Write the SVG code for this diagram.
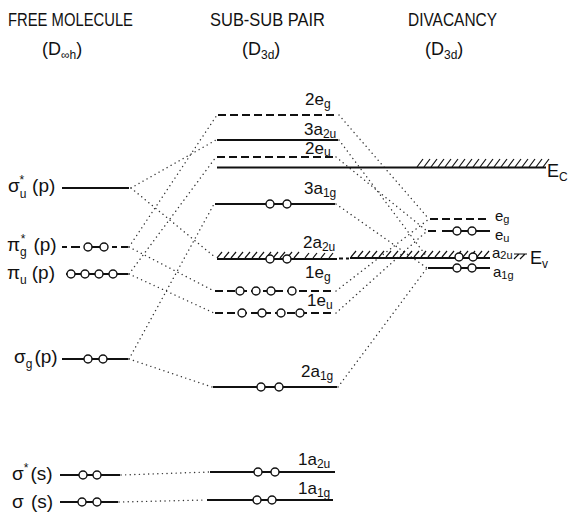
<svg xmlns="http://www.w3.org/2000/svg" width="569" height="516" viewBox="0 0 569 516">
<style>
.t{font-family:"Liberation Sans",Arial,sans-serif;fill:#111;font-size:17px}
.h{font-size:18px}
.s{font-size:12px}
.g{font-size:19px}
.r{font-size:15px}
.rs{font-size:11px}
.lv{stroke:#111;stroke-width:1.8;fill:none}
.ds{stroke-dasharray:8 4}
.e{fill:#fff;stroke:#111;stroke-width:1.4}
.dot{stroke:#333;stroke-width:1.4;stroke-dasharray:0.1 4.5;stroke-linecap:round;fill:none}
.ht{stroke:#111;stroke-width:1.2;fill:none}
</style>
<rect width="569" height="516" fill="#fff"/>
<g id="headers">
<text class="t h" x="8" y="26" textLength="125" lengthAdjust="spacingAndGlyphs">FREE MOLECULE</text>
<text class="t h" x="42" y="55">(D<tspan class="s" dy="4">∞</tspan><tspan class="s">h</tspan><tspan class="h" dy="-4">)</tspan></text>
<text class="t h" x="210" y="26" textLength="115" lengthAdjust="spacingAndGlyphs">SUB-SUB PAIR</text>
<text class="t h" x="242" y="55">(D<tspan class="s" dy="4">3d</tspan><tspan class="h" dy="-4">)</tspan></text>
<text class="t h" x="408" y="26" textLength="89" lengthAdjust="spacingAndGlyphs">DIVACANCY</text>
<text class="t h" x="425" y="55">(D<tspan class="s" dy="4">3d</tspan><tspan class="h" dy="-4">)</tspan></text>
</g>
<g id="connectors">
<path class="dot" d="M131,188 L216,140"/>
<path class="dot" d="M131,188 L216,258"/>
<path class="dot" d="M129,247 L217,115"/>
<path class="dot" d="M129,247 L214,291"/>
<path class="dot" d="M129,274 L216,157"/>
<path class="dot" d="M129,274 L214,313"/>
<path class="dot" d="M129,359 L214,204"/>
<path class="dot" d="M129,359 L212,387"/>
<path class="dot" d="M121,475 L209,472"/>
<path class="dot" d="M119,502 L206,500"/>
<path class="dot" d="M339,115 L429,219"/>
<path class="dot" d="M339,140 L427,257"/>
<path class="dot" d="M336,157 L427,231"/>
<path class="dot" d="M336,204 L427,268"/>
<path class="dot" d="M336,291 L429,219"/>
<path class="dot" d="M336,313 L427,231"/>
<path class="dot" d="M338,387 L427,268"/>
</g>
<g id="sigma_u_star_p">
<text class="t g" x="8" y="192">σ<tspan class="s" dy="6">u</tspan><tspan class="s" dx="-7" dy="-14">*</tspan><tspan dx="8" dy="8">(p)</tspan></text>
<line class="lv" x1="62" y1="188" x2="129" y2="188"/>
</g>
<g id="pi_g_star_p">
<text class="t g" x="7" y="251">π<tspan class="s" dy="5">g</tspan><tspan class="s" dx="-6" dy="-13">*</tspan><tspan dx="8" dy="8">(p)</tspan></text>
<path class="lv" d="M62,247 h5 M71,247 h9 M84,247 h24 M112,247 h5 M121,247 h7"/>
<circle class="e" cx="88" cy="247" r="4"/><circle class="e" cx="104" cy="247" r="4"/>
</g>
<g id="pi_u_p">
<text class="t g" x="7" y="279">π<tspan class="s" dy="5">u</tspan><tspan dx="5" dy="-5">(p)</tspan></text>
<line class="lv" x1="66" y1="274" x2="128" y2="274"/>
<circle class="e" cx="71" cy="274" r="4"/><circle class="e" cx="85" cy="274" r="4"/><circle class="e" cx="99" cy="274" r="4"/><circle class="e" cx="113" cy="274" r="4"/>
</g>
<g id="sigma_g_p">
<text class="t g" x="14" y="363">σ<tspan class="s" dy="5">g</tspan><tspan dx="2" dy="-5">(p)</tspan></text>
<line class="lv" x1="62" y1="359" x2="128" y2="359"/>
<circle class="e" cx="88" cy="359" r="4"/><circle class="e" cx="103" cy="359" r="4"/>
</g>
<g id="sigma_star_s">
<text class="t g" x="12" y="480">σ<tspan class="s" dy="-8">*</tspan><tspan dx="2" dy="8">(s)</tspan></text>
<line class="lv" x1="60" y1="475" x2="120" y2="475"/>
<circle class="e" cx="83" cy="475" r="4"/><circle class="e" cx="97" cy="475" r="4"/>
</g>
<g id="sigma_s">
<text class="t g" x="12" y="508">σ <tspan dx="2">(s)</tspan></text>
<line class="lv" x1="60" y1="502" x2="118" y2="502"/>
<circle class="e" cx="82" cy="502" r="4"/><circle class="e" cx="97" cy="502" r="4"/>
</g>
<g id="l2eg">
<text class="t" x="305" y="105">2e<tspan class="s" dy="3">g</tspan></text>
<line class="lv ds" x1="218" y1="115" x2="338" y2="115"/>
</g>
<g id="l3a2u">
<text class="t" x="304" y="135">3a<tspan class="s" dy="3">2u</tspan></text>
<line class="lv" x1="217" y1="140" x2="338" y2="140"/>
</g>
<g id="l2eu">
<text class="t" x="305" y="154">2e<tspan class="s" dy="2">u</tspan></text>
<line class="lv ds" x1="217" y1="157" x2="335" y2="157"/>
</g>
<g id="Ec">
<line class="lv" x1="217" y1="167.5" x2="546" y2="167.5"/>
<path class="ht" d="M417,167 l6,-8 m1,8 l6,-8 m1,8 l6,-8 m1,8 l6,-8 m1,8 l6,-8 m1,8 l6,-8 m1,8 l6,-8 m1,8 l6,-8 m1,8 l6,-8 m1,8 l6,-8 m1,8 l6,-8 m1,8 l6,-8 m1,8 l6,-8 m1,8 l6,-8 m1,8 l6,-8 m1,8 l6,-8 m1,8 l6,-8 m1,8 l6,-8 m1,8 l6,-8"/>
<text class="t h" x="547" y="177">E<tspan class="s" dy="4" font-size="11">C</tspan></text>
</g>
<g id="l3a1g">
<text class="t" x="304" y="194">3a<tspan class="s" dy="3">1g</tspan></text>
<line class="lv" x1="215" y1="204" x2="335" y2="204"/>
<circle class="e" cx="270" cy="204" r="4"/><circle class="e" cx="287" cy="204" r="4"/>
</g>
<g id="Ev">
<text class="t" x="303" y="248">2a<tspan class="s" dy="3">2u</tspan></text>
<line class="lv" x1="217" y1="259" x2="337" y2="259"/>
<path class="ht" d="M217,258 l5,-6 m2,6 l5,-6 m2,6 l5,-6 m2,6 l5,-6 m2,6 l5,-6 m2,6 l5,-6 m2,6 l5,-6 m2,6 l5,-6 m2,6 l5,-6 m2,6 l5,-6 m2,6 l5,-6 m2,6 l5,-6"/>
<path class="ht" d="M305,258 l4,-5 m4,5 l4,-5 m4,5 l4,-5 m4,5 l4,-5"/>
<path class="lv" d="M339,258.5 h4 M346,258.5 h3"/>
<line class="lv" x1="350" y1="258" x2="490" y2="258"/>
<path class="ht" d="M351,257 l5,-6 m2,6 l5,-6 m2,6 l5,-6 m2,6 l5,-6 m2,6 l5,-6 m2,6 l5,-6 m2,6 l5,-6 m2,6 l5,-6 m2,6 l5,-6 m2,6 l5,-6 m2,6 l5,-6 m2,6 l5,-6 m2,6 l5,-6 m2,6 l5,-6 m2,6 l5,-6 m2,6 l5,-6 m2,6 l5,-6 m2,6 l5,-6 m2,6 l5,-6 m2,6 l5,-6"/>
<circle class="e" cx="270" cy="259" r="4"/><circle class="e" cx="287" cy="259" r="4"/>
<path class="ht" d="M514,254 h13 M519,254 l-5,5 M525,254 l-5,5"/>
<text class="t h" x="530" y="264">E<tspan class="s" dy="4">v</tspan></text>
</g>
<g id="l1eg">
<text class="t" x="305" y="278">1e<tspan class="s" dy="3">g</tspan></text>
<line class="lv ds" x1="215" y1="291" x2="335" y2="291"/>
<circle class="e" cx="240" cy="291" r="4"/><circle class="e" cx="256" cy="291" r="4"/><circle class="e" cx="271" cy="291" r="4"/><circle class="e" cx="292" cy="291" r="4"/>
</g>
<g id="l1eu">
<text class="t" x="307" y="306">1e<tspan class="s" dy="3">u</tspan></text>
<line class="lv ds" x1="215" y1="313" x2="335" y2="313"/>
<circle class="e" cx="242" cy="313" r="4"/><circle class="e" cx="262" cy="313" r="4"/><circle class="e" cx="281" cy="313" r="4"/><circle class="e" cx="300" cy="313" r="4"/>
</g>
<g id="l2a1g">
<text class="t" x="301" y="377">2a<tspan class="s" dy="3">1g</tspan></text>
<line class="lv" x1="213" y1="387" x2="337" y2="387"/>
<circle class="e" cx="261" cy="387" r="4"/><circle class="e" cx="279" cy="387" r="4"/>
</g>
<g id="l1a2u">
<text class="t" x="298" y="465">1a<tspan class="s" dy="3">2u</tspan></text>
<line class="lv" x1="210" y1="472" x2="335" y2="472"/>
<circle class="e" cx="258" cy="472" r="4"/><circle class="e" cx="275" cy="472" r="4"/>
</g>
<g id="l1a1g">
<text class="t" x="298" y="494">1a<tspan class="s" dy="3">1g</tspan></text>
<line class="lv" x1="207" y1="500" x2="333" y2="500"/>
<circle class="e" cx="257" cy="500" r="4"/><circle class="e" cx="272" cy="500" r="4"/>
</g>
<g id="d_eg">
<text class="t r" x="495" y="221">e<tspan class="rs" dy="2">g</tspan></text>
<line class="lv ds" x1="430" y1="219" x2="490" y2="219"/>
</g>
<g id="d_eu">
<text class="t r" x="495" y="240">e<tspan class="rs" dy="2">u</tspan></text>
<path class="lv" d="M428,231 h8 M442,231 h48"/>
<circle class="e" cx="457" cy="231" r="4"/><circle class="e" cx="472" cy="231" r="4"/>
</g>
<g id="d_a2u">
<text class="t r" x="492" y="258">a<tspan class="rs" dy="1">2u</tspan></text>
<circle class="e" cx="459" cy="257" r="4"/><circle class="e" cx="473" cy="257" r="4"/>
</g>
<g id="d_a1g">
<text class="t r" x="493" y="277">a<tspan class="rs" dy="2">1g</tspan></text>
<line class="lv" x1="428" y1="268" x2="490" y2="268"/>
<circle class="e" cx="457" cy="268" r="4"/><circle class="e" cx="472" cy="268" r="4"/>
</g>
</svg>
